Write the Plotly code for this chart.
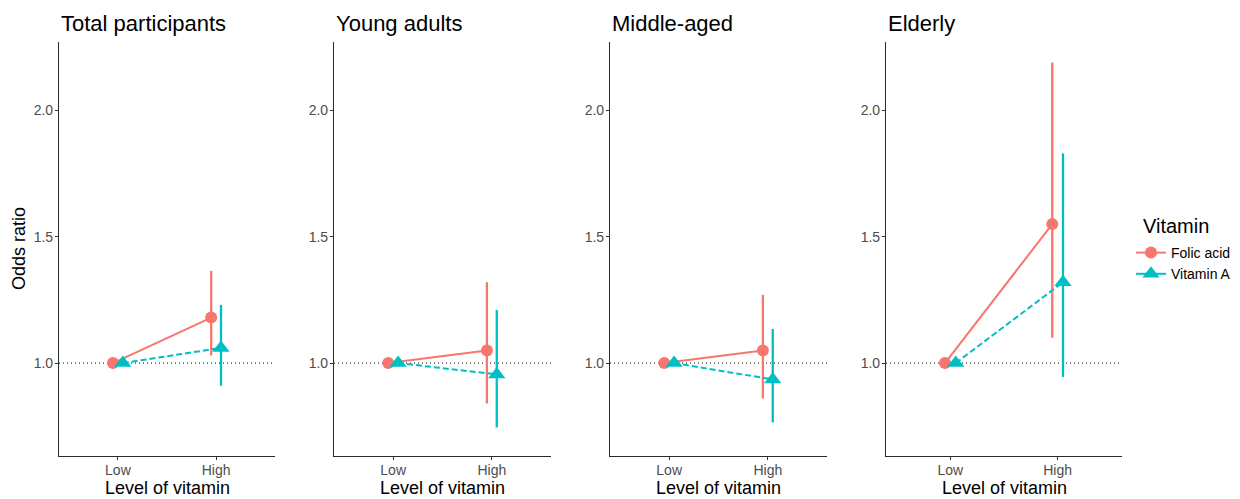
import plotly.graph_objects as go

# ---------------- data ----------------
panels = ["Total participants", "Young adults", "Middle-aged", "Elderly"]
levels = ["Low", "High"]
series = ["Folic acid", "Vitamin A"]

folic_or = [1.18, 1.05, 1.05, 1.55]
folic_lo = [1.03, 0.84, 0.86, 1.10]
folic_hi = [1.365, 1.32, 1.27, 2.19]

vita_or = [1.06, 0.955, 0.935, 1.32]
vita_lo = [0.91, 0.745, 0.765, 0.945]
vita_hi = [1.23, 1.21, 1.135, 1.83]

reference_or = 1.0
y_ticks = [1.0, 1.5, 2.0]

# ---------------- style ----------------
W, H = 1240, 499
FONT = "Liberation Sans, Arial, sans-serif"
colors = {"Folic acid": "#F8766D", "Vitamin A": "#00BFC4"}
symbols = {"Folic acid": "circle", "Vitamin A": "triangle-up"}
msize = {"Folic acid": 12, "Vitamin A": 15}
dashes = {"Folic acid": "solid", "Vitamin A": "6px,3px"}
dodge = {"Folic acid": -0.05, "Vitamin A": 0.05}

panel_px = [(59, 275), (334, 551), (610, 827), (886, 1122)]
top_px, bot_px = 42, 456
y_dom = [(H - bot_px) / H, (H - top_px) / H]

fig = go.Figure()

vals = {
    "Folic acid": (folic_or, folic_lo, folic_hi),
    "Vitamin A": (vita_or, vita_lo, vita_hi),
}

for i, name in enumerate(panels):
    ax = "" if i == 0 else str(i + 1)
    xa, ya = "x" + ax, "y" + ax
    for s in series:
        orv, lo, hi = vals[s]
        xs = [k + 1 + dodge[s] for k in range(len(levels))]
        ys = [reference_or, orv[i]]
        fig.add_trace(go.Scatter(
            x=xs, y=ys, xaxis=xa, yaxis=ya,
            mode="lines+markers",
            line=dict(color=colors[s], width=2, dash=dashes[s]),
            marker=dict(color=colors[s], symbol=symbols[s], size=msize[s]),
            error_y=dict(type="data", symmetric=False,
                         array=[None, hi[i] - orv[i]],
                         arrayminus=[None, orv[i] - lo[i]],
                         color=colors[s], thickness=2.3, width=0),
            showlegend=False, hoverinfo="skip",
        ))
    x0, x1 = panel_px[i]
    fig.update_layout(**{
        ("xaxis" + ax): dict(
            domain=[x0 / W, x1 / W], anchor=ya, range=[0.4, 2.6],
            tickvals=[1, 2], ticktext=levels,
            showline=True, linecolor="#2b2b2b", linewidth=1.2,
            ticks="outside", ticklen=3, tickcolor="#333333", tickwidth=1,
            ticklabelstandoff=-2,
            showgrid=False, zeroline=False,
            tickfont=dict(family=FONT, size=14, color="#4D4D4D"),
            fixedrange=True,
        ),
        ("yaxis" + ax): dict(
            domain=y_dom, anchor=xa, range=[0.632, 2.271],
            tickvals=y_ticks, ticktext=[f"{v:.1f}" for v in y_ticks],
            showline=True, linecolor="#2b2b2b", linewidth=1.2,
            ticks="outside", ticklen=3, tickcolor="#333333", tickwidth=1,
            ticklabelstandoff=-1,
            showgrid=False, zeroline=False,
            tickfont=dict(family=FONT, size=14, color="#4D4D4D"),
            fixedrange=True,
        ),
    })
    fig.add_shape(type="line", xref=xa + " domain", yref=ya,
                  x0=0, x1=1, y0=reference_or, y1=reference_or,
                  line=dict(color="black", width=1, dash="1px,3px"),
                  layer="below")
    fig.add_annotation(text=name, xref="paper", yref="paper",
                       x=x0 / W, y=(H - 23) / H, xanchor="left", yanchor="middle",
                       showarrow=False, font=dict(family=FONT, size=22, color="black"))
    fig.add_annotation(text="Level of vitamin", xref="paper", yref="paper",
                       x=(x0 + x1) / 2 / W, y=(H - 488) / H, xanchor="center", yanchor="middle",
                       showarrow=False, font=dict(family=FONT, size=18, color="black"))

fig.add_annotation(text="Odds ratio", xref="paper", yref="paper",
                   x=19 / W, y=(H - 249) / H, xanchor="center", yanchor="middle",
                   textangle=-90, showarrow=False,
                   font=dict(family=FONT, size=18, color="black"))

# legend title
fig.add_annotation(text="Vitamin", xref="paper", yref="paper",
                   x=1141 / W, y=(H - 226) / H, xanchor="left", yanchor="middle",
                   showarrow=False, font=dict(family=FONT, size=20, color="black"))

# legend-only traces
for s in series:
    fig.add_trace(go.Scatter(
        x=[None], y=[None], mode="lines+markers", name=s,
        line=dict(color=colors[s], width=2),
        marker=dict(color=colors[s], symbol=symbols[s], size=msize[s]),
        showlegend=True,
    ))

fig.update_layout(
    width=W, height=H,
    margin=dict(l=0, r=0, t=0, b=0),
    paper_bgcolor="white", plot_bgcolor="white",
    font=dict(family=FONT, color="black"),
    showlegend=True,
    legend=dict(
        font=dict(family=FONT, size=14, color="black"),
        x=1131 / W, y=(H - 237) / H, xanchor="left", yanchor="top",
        itemwidth=30, bgcolor="rgba(0,0,0,0)",
        tracegroupgap=0,
    ),
    hovermode=False,
)

fig.write_html(
    "out.html",
    config={"displayModeBar": False},
    post_script="document.body.style.margin='0';document.body.style.overflow='hidden';",
)
